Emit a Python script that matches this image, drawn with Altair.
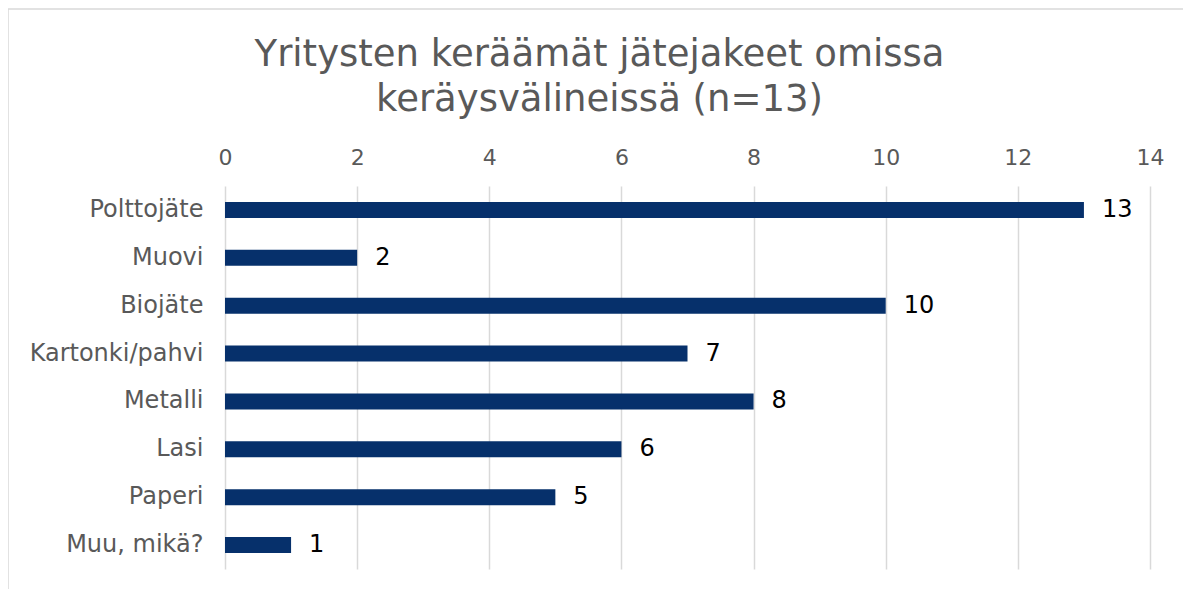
import altair as alt
import pandas as pd

categories = ["Polttojäte", "Muovi", "Biojäte", "Kartonki/pahvi", "Metalli", "Lasi", "Paperi", "Muu, mikä?"]
values = [13, 2, 10, 7, 8, 6, 5, 1]
x_ticks = [0, 2, 4, 6, 8, 10, 12, 14]
title_lines = ["Yritysten keräämät jätejakeet omissa", "keräysvälineissä (n=13)"]

df = pd.DataFrame({"cat": categories, "val": values})
FONT = "DejaVu Sans"

y_enc = alt.Y("cat:N", sort=categories, title=None,
              scale=alt.Scale(paddingInner=0.667, paddingOuter=0.333),
              axis=alt.Axis(ticks=False, domain=False, labelPadding=22, labelFontSize=24,
                            labelColor="#595959", labelFont=FONT))
x_enc = alt.X("val:Q", title=None,
              scale=alt.Scale(domain=[0, 14], nice=False),
              axis=alt.Axis(orient="top", values=x_ticks, format="d", ticks=False, domain=False,
                            labelFlush=False, labelPadding=17, labelFontSize=22,
                            labelColor="#595959", labelFont=FONT,
                            gridColor="#d9d9d9", gridWidth=1.5))

bars = alt.Chart(df).mark_bar(color="#06306b").encode(x=x_enc, y=y_enc)
labels = alt.Chart(df).mark_text(align="left", baseline="middle", dx=18, fontSize=24,
                                 font=FONT, color="#000000").encode(
    x="val:Q", y=alt.Y("cat:N", sort=categories), text="val:Q")

border = alt.Chart(alt.Data(values=[{}])).mark_rect(fill=None, stroke="#d9d9d9", strokeWidth=1.5).encode(
    x=alt.value(-217), x2=alt.value(1100), y=alt.value(-177), y2=alt.value(700))

chart = alt.layer(border, bars, labels).properties(
    width=925, height=383,
    title=alt.TitleParams(text=title_lines, fontSize=37, font=FONT, color="#595959",
                          fontWeight="normal", anchor="middle", dx=-88, dy=111,
                          lineHeight=45, offset=0),
    autosize=alt.AutoSizeParams(type="none"),
    padding={"left": 217, "top": 178, "right": 33, "bottom": 20},
).configure_view(stroke=None)

chart.save("out.html", embed_options={"renderer": "svg", "actions": False})
